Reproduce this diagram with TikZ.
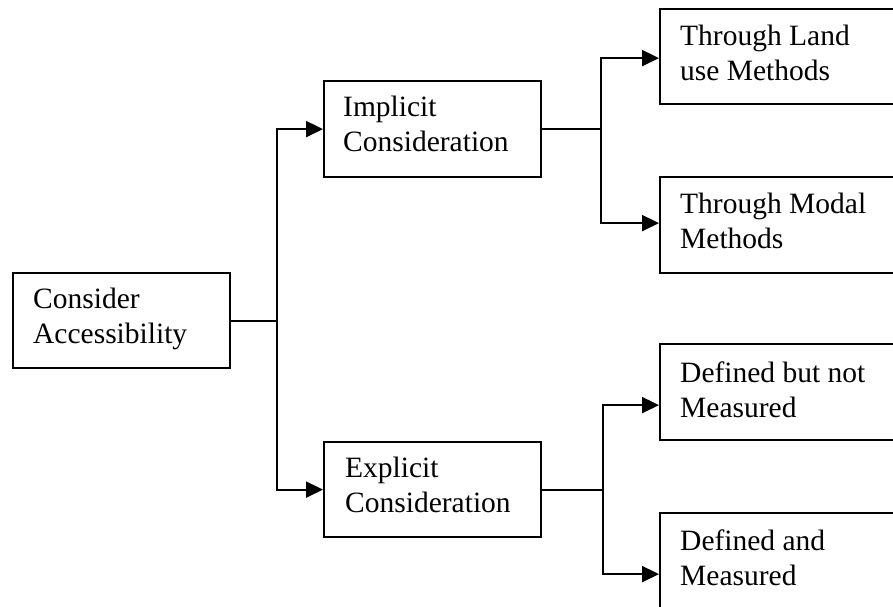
\documentclass[tikz,border=0pt]{standalone}
\usepackage{fontspec}
\setmainfont{Liberation Serif}
\usetikzlibrary{arrows.meta}
\begin{document}
\begin{tikzpicture}[x=1pt,y=-1pt,
  box/.style={draw, line width=2.2pt, rectangle, inner sep=0pt, anchor=north west},
  lbl/.style={font=\fontsize{29.5}{35}\selectfont, align=left, inner sep=0pt, anchor=north west},
  arr/.style={line width=2.2pt, -{Triangle[length=17pt,width=16pt]}}]
\useasboundingbox (0,0) rectangle (893,606);
\clip (0,0) rectangle (893,606);
% boxes
\node[box, minimum width=217pt, minimum height=95pt] (A) at (12,272) {};
\node[box, minimum width=217pt, minimum height=96pt] (B) at (323,80) {};
\node[box, minimum width=217pt, minimum height=95pt] (C) at (323,441) {};
\node[box, minimum width=245pt, minimum height=95pt] (D) at (659,8) {};
\node[box, minimum width=245pt, minimum height=96pt] (E) at (659,176) {};
\node[box, minimum width=245pt, minimum height=96pt] (F) at (659,343) {};
\node[box, minimum width=245pt, minimum height=96pt] (G) at (659,512) {};
% labels (first baseline = y + 24.5)
\node[lbl] (tA) at (33,283.5) {\strut Consider\\Accessibility};
\node[lbl] (tB) at (343,91.5) {\strut Implicit\\Consideration};
\node[lbl] (tC) at (345,452.5) {\strut Explicit\\Consideration};
\node[lbl] (tD) at (680,20.5) {\strut Through Land\\use Methods};
\node[lbl] (tE) at (680,188.5) {\strut Through Modal\\Methods};
\node[lbl] (tF) at (680,357.5) {\strut Defined but not\\Measured};
\node[lbl] (tG) at (680,525.5) {\strut Defined and\\Measured};
% connectors
\draw[arr] (A.east) -- ++(46,0) |- (B.west);
\draw[arr] (A.east) -- ++(46,0) |- (C.west);
\draw[arr] (B.east) -- ++(59,0) |- ([yshift=-1.5pt]D.west);
\draw[arr] (B.east) -- ++(59,0) |- ([yshift=2pt]E.west);
\draw[arr] (C.east) -- ++(61,0) |- ([yshift=-13pt]F.west);
\draw[arr] (C.east) -- ++(61,0) |- ([yshift=-13pt]G.west);
\end{tikzpicture}
\end{document}
